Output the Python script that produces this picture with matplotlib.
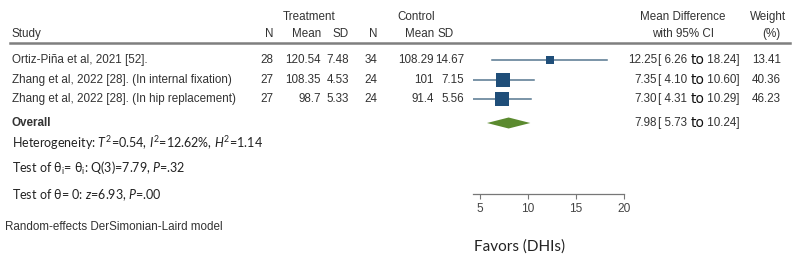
import matplotlib.pyplot as plt
from matplotlib.patches import Polygon
import numpy as np

plt.rcParams['font.family'] = ['Liberation Sans', 'DejaVu Sans']
plt.rcParams['mathtext.fontset'] = 'custom'
plt.rcParams['mathtext.rm'] = 'Lato'
plt.rcParams['mathtext.it'] = 'Lato:italic'

studies = ["Ortiz-Piña et al, 2021 [52].",
           "Zhang et al, 2022 [28]. (In internal fixation)",
           "Zhang et al, 2022 [28]. (In hip replacement)"]
t_n = [28, 27, 27]
t_mean = ["120.54", "108.35", "98.7"]
t_sd = ["7.48", "4.53", "5.33"]
c_n = [34, 24, 24]
c_mean = ["108.29", "101", "91.4"]
c_sd = ["14.67", "7.15", "5.56"]
md = [12.25, 7.35, 7.30]
lo = [6.26, 4.10, 4.31]
hi = [18.24, 10.60, 10.29]
weight = [13.41, 40.36, 46.23]
overall = (7.98, 5.73, 10.24)
xticks = [5, 10, 15, 20]

W, H = 800, 257
fig = plt.figure(figsize=(W / 100, H / 100), dpi=100)

# text layer in pixel coordinates
tx = fig.add_axes([0, 0, 1, 1])
tx.set_xlim(0, W)
tx.set_ylim(H, 0)
tx.axis("off")

tc = "#333333"
fs = 8.4

def put(x, y, s, ha="left", **kw):
    kw.setdefault("fontsize", fs)
    kw.setdefault("color", tc)
    return tx.text(x, y, s, ha=ha, va="center", **kw)

def ci_text(y, m, a, b):
    # "to" is drawn in a larger face, as in the original
    put(657, y, f"{m:.2f}", ha="right")
    t1 = put(658, y, f"[ {a:.2f} ")
    t2 = tx.annotate("to", xy=(1, 0.5), xycoords=t1, va="center",
                     fontsize=10, color="#111111",
                     family=["DejaVu Sans"])
    tx.annotate(f" {b:.2f}]", xy=(1, 0.5), xycoords=t2, va="center",
                fontsize=fs, color=tc)

# headers
put(309, 17, "Treatment", ha="center")
put(416, 17, "Control", ha="center")
put(683, 17, "Mean Difference", ha="center")
put(786, 17, "Weight", ha="right")
put(12, 34, "Study")
put(273, 34, "N", ha="right")
put(321, 34, "Mean", ha="right")
put(349, 34, "SD", ha="right")
put(377, 34, "N", ha="right")
put(434, 34, "Mean", ha="right")
put(437, 34, "SD")
put(683, 34, "with 95% CI", ha="center")
put(771, 34, "(%)", ha="center")
tx.plot([10, 790], [43, 43], color="#7f7f7f", lw=1.8)

row_y = [60, 80, 99]
for i, y in enumerate(row_y):
    put(12, y, studies[i])
    put(273, y, str(t_n[i]), ha="right")
    put(321, y, t_mean[i], ha="right")
    put(349, y, t_sd[i], ha="right")
    put(377, y, str(c_n[i]), ha="right")
    put(434, y, c_mean[i], ha="right")
    put(464, y, c_sd[i], ha="right")
    ci_text(y, md[i], lo[i], hi[i])
    put(781, y, f"{weight[i]:.2f}", ha="right")

put(12, 123, "Overall", fontweight="bold")
ci_text(123, *overall)

cal = dict(fontsize=9, family=["Lato", "DejaVu Sans"], color="#222222")
put(12, 143, r"Heterogeneity: $T^2$=0.54, $I^2$=12.62%, $H^2$=1.14", **cal)
put(12, 168, r"Test of $\mathrm{\theta}_\mathrm{i}$= $\mathrm{\theta}_\mathrm{i}$: Q(3)=7.79, $P$=.32", **cal)
put(12, 195, r"Test of θ= 0: $z$=6.93, $P$=.00", **cal)
put(5, 227, "Random-effects DerSimonian-Laird model", fontsize=8.4)
tx.text(474, 247, "Favors (DHIs)", ha="left", va="center", fontsize=11,
        family=["Lato", "DejaVu Sans"], color="#222222")

# forest plot axes: x 4.24..20 maps to px 472.7..624
x0, x1 = 472.7, 624
ytop, ybot = 43, 194
ax = fig.add_axes([x0 / W, 1 - ybot / H, (x1 - x0) / W, (ybot - ytop) / H])
ax.patch.set_alpha(0)
ax.set_xlim(4.24, 20)
# rows in pixel-like units
ax.set_ylim(ybot, ytop)

for i, y in enumerate(row_y):
    ax.plot([lo[i], hi[i]], [y, y], color="#56778f", lw=1.1, zorder=1)
    side = 2.1 * np.sqrt(weight[i]) * 0.72
    ax.plot(md[i], y, marker="s", markersize=side, color="#1f4e79",
            markeredgewidth=0, zorder=2)

oy = 123
diamond = Polygon([[overall[1], oy], [overall[0], oy - 5.5],
                   [overall[2], oy], [overall[0], oy + 5.5]],
                  closed=True, color="#5b8a2f", lw=0)
ax.add_patch(diamond)

for s in ["top", "right", "left"]:
    ax.spines[s].set_visible(False)
ax.spines["bottom"].set_color("#777777")
ax.spines["bottom"].set_linewidth(0.9)
ax.set_yticks([])
ax.set_xticks(xticks)
ax.tick_params(axis="x", length=3.5, width=0.8, color="#777777",
               labelsize=8.6, labelcolor="#444444", pad=3)

fig.savefig("out.png", dpi=100)
